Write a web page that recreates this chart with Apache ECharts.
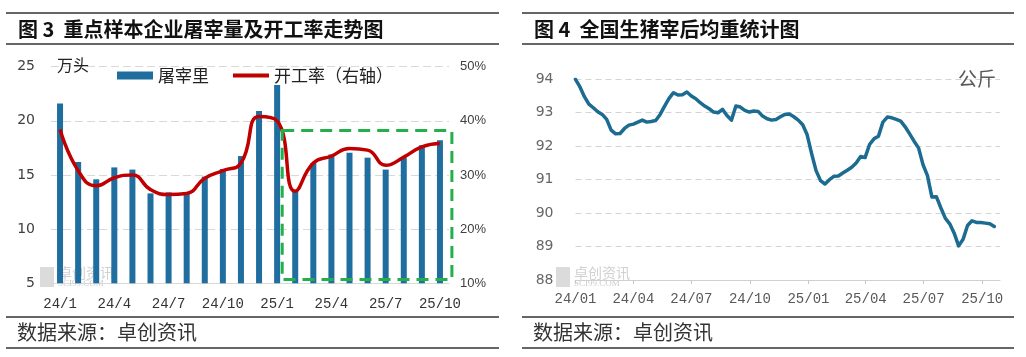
<!DOCTYPE html>
<html>
<head>
<meta charset="utf-8">
<script src="https://cdn.jsdelivr.net/npm/echarts@6/dist/echarts.min.js"></script>
<style>
  html, body { margin: 0; padding: 0; background: #fff; }
  #c { width: 1026px; height: 357px; }
</style>
</head>
<body>
<div id="c"></div>
<script>
// ---------- Left chart (图3) data ----------
const months = ['24/1','24/2','24/3','24/4','24/5','24/6','24/7','24/8','24/9','24/10','24/11','24/12',
                '25/1','25/2','25/3','25/4','25/5','25/6','25/7','25/8','25/9','25/10'];
const slaughter = [21.6, 16.2, 14.6, 15.7, 15.5, 13.3, 13.4, 13.3, 14.85, 15.55, 16.75, 20.9,
                   23.3, 13.5, 16.1, 16.9, 17.05, 16.6, 15.5, 16.6, 17.75, 18.2];
const operatingRate = [38.4, 30.8, 28.0, 29.5, 30.0, 27.3, 26.4, 26.6, 29.4, 30.8, 32.2, 40.8,
                       40.0, 27.0, 32.2, 33.5, 34.9, 34.6, 31.8, 33.3, 35.2, 35.8];
const leftTicks = [5, 10, 15, 20, 25];
const rightTicks = [10, 20, 30, 40, 50];
// highlighted box (category index range and left-axis value range)
const boxFrom = 12.28, boxTo = 21.66, boxLow = 5.35, boxHigh = 19.1;

// ---------- Right chart (图4) data ----------
const weekDates = [
 '2024-01-01','2024-01-08','2024-01-15','2024-01-22','2024-01-29','2024-02-05','2024-02-12','2024-02-19','2024-02-26','2024-03-04',
 '2024-03-11','2024-03-18','2024-03-25','2024-04-01','2024-04-08','2024-04-15','2024-04-22','2024-04-29','2024-05-06','2024-05-13',
 '2024-05-20','2024-05-27','2024-06-03','2024-06-10','2024-06-17','2024-06-24','2024-07-01','2024-07-08','2024-07-15','2024-07-22',
 '2024-07-29','2024-08-05','2024-08-12','2024-08-19','2024-08-26','2024-09-02','2024-09-09','2024-09-16','2024-09-23','2024-09-30',
 '2024-10-07','2024-10-14','2024-10-21','2024-10-28','2024-11-04','2024-11-11','2024-11-18','2024-11-25','2024-12-02','2024-12-09',
 '2024-12-16','2024-12-23','2024-12-30','2025-01-06','2025-01-13','2025-01-20','2025-01-27','2025-02-03','2025-02-10','2025-02-17',
 '2025-02-24','2025-03-03','2025-03-10','2025-03-17','2025-03-24','2025-03-31','2025-04-07','2025-04-14','2025-04-21','2025-04-28',
 '2025-05-05','2025-05-12','2025-05-19','2025-05-26','2025-06-02','2025-06-09','2025-06-16','2025-06-23','2025-06-30','2025-07-07',
 '2025-07-14','2025-07-21','2025-07-28','2025-08-04','2025-08-11','2025-08-18','2025-08-25','2025-09-01','2025-09-08','2025-09-15',
 '2025-09-22','2025-09-29','2025-10-06','2025-10-13','2025-10-20'
];
const carcassWeight = [
 94.0, 93.77, 93.48, 93.26, 93.15, 93.03, 92.95, 92.8, 92.48, 92.37,
 92.38, 92.53, 92.63, 92.66, 92.72, 92.78, 92.72, 92.74, 92.77, 92.95,
 93.2, 93.43, 93.6, 93.53, 93.54, 93.62, 93.5, 93.42, 93.3, 93.2,
 93.12, 93.02, 93.0, 93.1, 92.92, 92.78, 93.2, 93.17, 93.07, 93.02,
 93.05, 93.04, 92.9, 92.82, 92.78, 92.8, 92.88, 92.95, 92.96, 92.88,
 92.78, 92.64, 92.34, 91.78, 91.27, 90.97, 90.87, 91.0, 91.1, 91.11,
 91.2, 91.28, 91.37, 91.5, 91.69, 91.66, 92.05, 92.22, 92.3, 92.72,
 92.87, 92.85, 92.8, 92.75, 92.58, 92.37, 92.15, 91.95, 91.45, 91.12,
 90.48, 90.49, 90.16, 89.85, 89.68, 89.4, 89.02, 89.22, 89.63, 89.77,
 89.72, 89.72, 89.7, 89.68, 89.6
];
const quarterTicks = ['2024-01-01','2024-04-01','2024-07-01','2024-10-01','2025-01-01','2025-04-01','2025-07-01','2025-10-01'];
const timeMin = '2024-01-01', timeMax = '2025-10-29';
const weightTicks = [88, 89, 90, 91, 92, 93, 94];

// ---------- helpers ----------
function parseLocal(s) { const p = s.split('-').map(Number); return new Date(p[0], p[1] - 1, p[2]).getTime(); }
function pad(n) { return n < 10 ? '0' + n : '' + n; }

const BLUE = '#1f6e9f';
const RED = '#c00000';
const LINEBLUE = '#1c6b91';
const GREEN = '#23b04a';

const chart = echarts.init(document.getElementById('c'), null, { renderer: 'canvas' });
const tickStamps = quarterTicks.map(parseLocal);

const option = {
  animation: false,
  backgroundColor: '#ffffff',
  legend: {
    left: 117, top: 67, padding: 0,
    itemWidth: 36, itemHeight: 8, itemGap: 24,
    textStyle: { fontFamily: 'Noto Sans CJK SC', fontSize: 17, color: '#222' },
    data: [
      { name: '屠宰里', icon: 'rect' },
      { name: '开工率（右轴）', icon: 'path://M0,0H36V4H0Z', itemStyle: { color: RED } }
    ]
  },
  grid: [
    { left: 51, right: 1026 - 449, top: 66.7, bottom: 357 - 283.3, containLabel: false },
    { left: 575.5, right: 26, top: 79.3, bottom: 357 - 280, containLabel: false }
  ],
  xAxis: [
    {
      type: 'category', gridIndex: 0, data: months, boundaryGap: true,
      axisLine: { show: true, lineStyle: { color: '#d9d9d9', width: 1 } },
      axisTick: { show: false },
      axisLabel: { interval: 2, margin: 14, fontFamily: 'Liberation Mono', fontSize: 14, color: '#333' }
    },
    {
      type: 'value', gridIndex: 1, min: parseLocal(timeMin), max: parseLocal(timeMax),
      axisLine: { show: true, lineStyle: { color: '#d0d0d0', width: 1 } },
      axisTick: { show: true, length: 4, lineStyle: { color: '#c8c8c8' }, customValues: tickStamps },
      axisLabel: {
        customValues: tickStamps, hideOverlap: false, margin: 12,
        fontFamily: 'Liberation Mono', fontSize: 14, color: '#595959',
        formatter: function (v) { const d = new Date(v); return String(d.getFullYear()).slice(2) + '/' + pad(d.getMonth() + 1); }
      },
      splitLine: { show: false }
    }
  ],
  yAxis: [
    {
      type: 'value', gridIndex: 0, min: leftTicks[0], max: leftTicks[leftTicks.length - 1], interval: 5,
      axisLine: { show: false }, axisTick: { show: false },
      axisLabel: { margin: 16, fontFamily: 'DejaVu Sans', fontSize: 14, color: '#404040' },
      splitLine: { show: true, lineStyle: { color: '#d9d9d9', type: [8, 4], width: 1 } }
    },
    {
      type: 'value', gridIndex: 0, min: rightTicks[0], max: rightTicks[rightTicks.length - 1], interval: 10,
      position: 'right',
      axisLine: { show: false }, axisTick: { show: false },
      axisLabel: { margin: 11, fontFamily: 'Liberation Sans', fontSize: 13, color: '#404040', formatter: '{value}%' },
      splitLine: { show: false }
    },
    {
      type: 'value', gridIndex: 1, min: weightTicks[0], max: weightTicks[weightTicks.length - 1], interval: 1,
      axisLine: { show: false }, axisTick: { show: false },
      axisLabel: { margin: 22, fontFamily: 'DejaVu Sans', fontSize: 14, color: '#666' },
      splitLine: { show: true, lineStyle: { color: '#d4d4d4', type: [6, 4], width: 1 } }
    }
  ],
  series: [
    {
      name: '屠宰里', type: 'bar', xAxisIndex: 0, yAxisIndex: 0,
      data: slaughter, barWidth: 6,
      itemStyle: { color: BLUE }
    },
    {
      name: '开工率（右轴）', type: 'line', xAxisIndex: 0, yAxisIndex: 1,
      data: operatingRate, smooth: 0.5, symbol: 'none', showSymbol: false,
      lineStyle: { color: RED, width: 3.5 }, itemStyle: { color: RED }
    },
    {
      name: '均重', type: 'line', xAxisIndex: 1, yAxisIndex: 2,
      data: weekDates.map(function (d, i) { return [parseLocal(d), carcassWeight[i]]; }),
      symbol: 'none', showSymbol: false, smooth: false,
      lineStyle: { color: LINEBLUE, width: 3.5, join: 'round', cap: 'round' }
    }
  ]
};
chart.setOption(option);

// ---------- decorations ----------
function hline(x1, x2, y) {
  return { type: 'line', silent: true, shape: { x1: x1, y1: y, x2: x2, y2: y }, style: { stroke: '#333', lineWidth: 1.3 } };
}
function txt(x, y, s, font, color) {
  return { type: 'text', silent: true, style: { text: s, x: x, y: y, font: font, fill: color, verticalAlign: 'middle' } };
}
function watermark(x, y) {
  return [
    { type: 'rect', silent: true, shape: { x: x, y: y, width: 14, height: 20 }, style: { fill: 'rgba(190,190,190,0.55)' } },
    txt(x + 18, y + 6, '卓创资讯', '14px "Noto Sans CJK SC"', 'rgba(170,170,170,0.55)'),
    txt(x + 18, y + 17, 'SCI99.COM', '9px "Liberation Serif"', 'rgba(170,170,170,0.6)')
  ];
}

const p12 = chart.convertToPixel({ xAxisIndex: 0, yAxisIndex: 0 }, [12, boxHigh]);
const p13 = chart.convertToPixel({ xAxisIndex: 0, yAxisIndex: 0 }, [13, boxLow]);
const p20 = chart.convertToPixel({ xAxisIndex: 0, yAxisIndex: 0 }, [20, boxLow]);
const p21 = chart.convertToPixel({ xAxisIndex: 0, yAxisIndex: 0 }, [21, boxLow]);
const band = p13[0] - p12[0];
const bx0 = p12[0] + (boxFrom - 12) * band;
const bx1 = p21[0] + (boxTo - 21) * (p21[0] - p20[0]);
const by0 = p12[1];
const by1 = p13[1];

const graphics = [
  hline(6, 499, 13), hline(6, 499, 44), hline(6, 499, 317), hline(6, 499, 348),
  hline(522, 1014, 13), hline(522, 1014, 44), hline(522, 1014, 317), hline(522, 1014, 348),
  txt(18, 29, '图 3  重点样本企业屠宰量及开工率走势图', 'bold 20px "Noto Sans CJK SC"', '#111'),
  txt(534, 29, '图 4  全国生猪宰后均重统计图', 'bold 20px "Noto Sans CJK SC"', '#111'),
  txt(17, 332, '数据来源：卓创资讯', '20px "Noto Sans CJK SC"', '#333'),
  txt(533, 332, '数据来源：卓创资讯', '20px "Noto Sans CJK SC"', '#333'),
  txt(57, 65, '万头', '16px "Noto Sans CJK SC"', '#222'),
  txt(958, 79, '公斤', '19px "Noto Sans CJK SC"', '#595959'),
  {
    type: 'rect', silent: true, z: 100,
    shape: { x: bx0, y: by0, width: bx1 - bx0, height: by1 - by0 },
    style: { fill: 'none', stroke: GREEN, lineWidth: 3, lineDash: [12, 7] }
  }
].concat(watermark(40, 267), watermark(556, 267));

chart.setOption({ graphic: graphics });
</script>
</body>
</html>
